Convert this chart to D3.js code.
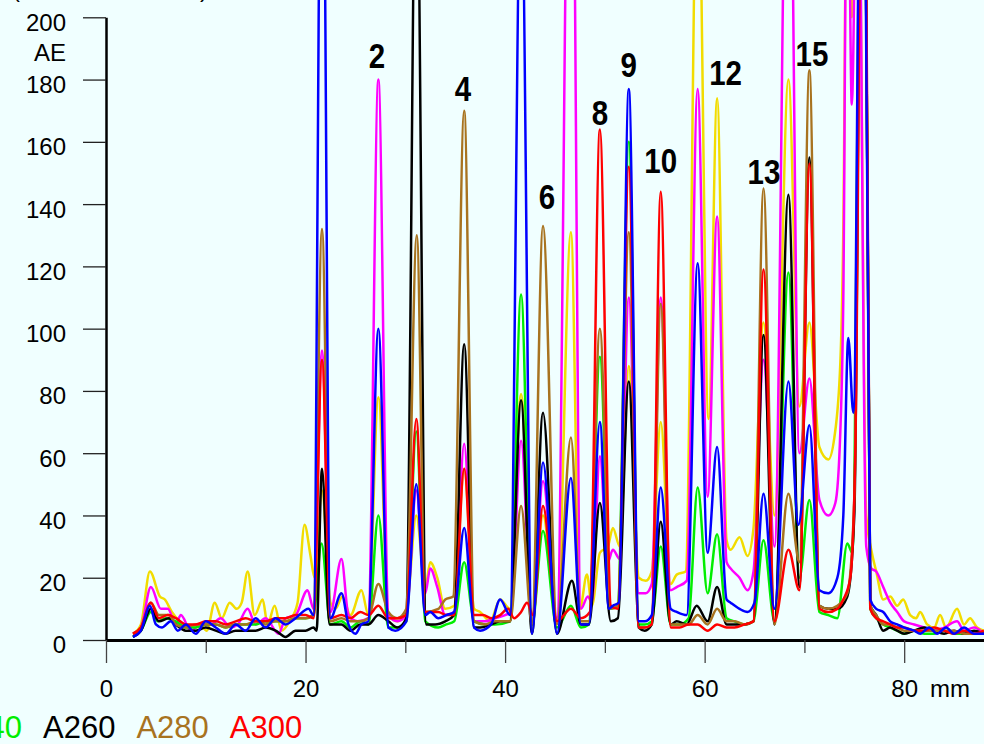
<!DOCTYPE html>
<html>
<head>
<meta charset="utf-8">
<script src="https://cdn.jsdelivr.net/npm/d3@7"></script>
<style>
  body { margin: 0; background: #f0ffff; }
  svg { display: block; }
  text { font-family: "Liberation Sans", Arial, Helvetica, sans-serif; }
</style>
</head>
<body>
<svg id="mainSvg" width="984" height="744"></svg>
<script>
// traces: [mm, AE]
var yellowPts = [[2.7,2],[3.5,5],[4.4,22],[5.4,14],[5.9,13],[6.6,9],[7.4,6],[8.4,4],[9.4,5],[10.1,3],[10.9,12],[11.6,7],[12.4,12],[13.1,10],[13.6,12],[14.2,22],[14.9,8],[15.7,13],[16.2,5],[16.9,11],[17.6,3],[18.4,6],[19.2,12],[19.9,37],[20.5,27],[20.9,20],[21.65,48],[22.5,12],[23.0,10],[23.7,14],[24.5,8],[25.6,16],[26.3,8],[27.3,78],[28.3,8],[29.2,6],[30.1,9],[31.1,40],[32.0,17],[32.5,25],[33.2,20],[34.0,10],[34.9,11],[35.9,55],[36.9,10],[37.5,9],[38.5,6],[39.5,13],[40.5,10],[41.6,79],[42.7,8],[43.8,40],[45.2,6],[46.6,131],[47.5,10],[48.2,21],[48.7,11],[49.5,28],[50.3,30],[50.8,36],[51.5,30],[52.4,88],[53.4,20],[54.1,19],[54.7,22],[55.6,70],[56.6,18],[57.2,21],[58.1,22],[59.3,260],[60.4,71],[61.25,174],[62.2,32],[62.6,29],[63.5,33],[64.3,27],[64.9,36],[65.9,102],[67.0,40],[68.4,180],[69.5,75],[70.5,102],[71.5,62],[72.4,58],[73.0,65],[73.6,89],[73.9,132],[74.3,270],[74.75,200],[75.35,270],[76.2,40],[76.7,29],[77.2,22],[77.9,13],[78.6,14],[79.3,11],[79.9,13],[80.6,8],[81.2,7],[81.6,9],[82.3,5],[83,4],[83.6,8],[84.2,4],[85.3,10],[86,5],[86.6,7],[87.3,4],[88,3]];

var magentaPts = [[2.7,2],[3.5,4],[4.5,17],[5.5,10],[6.2,10],[7.0,5],[7.5,8],[8.5,3],[9.5,5],[10.5,5],[11.5,7],[12.5,4],[13.2,5],[14.2,10],[15.0,5],[16.0,7],[17.3,2],[18.0,7],[19.0,8],[20.2,16],[20.8,10],[21.65,93],[22.5,9],[23.6,26],[24.3,8],[25.2,6],[26.3,7],[27.3,180],[28.3,8],[29.2,6],[30.1,8],[31.1,48],[32.0,15],[32.5,23],[33.2,17],[34.0,8],[34.9,9],[35.9,63],[36.9,6],[38.0,6],[39.0,7],[40.0,8],[40.6,9],[41.6,64],[42.7,6],[43.8,51],[45.2,7],[46.6,320],[47.6,10],[48.3,14],[48.7,12],[49.5,59],[50.3,25],[50.8,29],[51.5,26],[52.4,110],[53.4,15],[54.1,15],[54.7,18],[55.6,110],[56.6,16],[57.2,17],[58.2,19],[59.3,177],[60.3,46],[61.25,136],[62.2,25],[62.6,23],[63.5,20],[64.3,16],[64.9,22],[65.9,90],[67.0,30],[68.4,300],[69.5,60],[70.5,84],[71.5,45],[72.4,40],[73.1,44],[73.6,67],[73.9,110],[74.3,280],[74.75,172],[75.35,280],[76.2,30],[76.7,23],[77.2,22],[77.9,17],[78.6,12],[79.3,9],[80,6],[81,5],[82,4],[83,3],[84,4],[85.3,6],[86,3],[87,4],[88,2]];

var bluePts = [[2.7,1],[3.5,3],[4.4,11],[5.0,5],[5.6,4],[6.5,6],[7.2,3],[8.0,5],[9.0,2],[10.0,6],[11.0,4],[12.0,2],[13.0,5],[14.0,3],[15.0,7],[16.0,4],[17.0,7],[18.0,5],[19.0,7],[20.3,10],[20.8,8],[21.65,300],[22.5,7],[23.6,15],[24.3,5],[25.0,2],[25.6,5],[26.3,6],[27.3,100],[28.3,4],[29.0,3],[30.1,6],[31.1,50],[32.0,8],[32.5,9],[33.3,7],[34.1,8],[34.9,9],[35.9,36],[36.9,4],[37.5,3],[38.6,5],[39.5,13],[40.5,8],[41.6,250],[42.7,2],[43.8,57],[45.2,2],[46.6,52],[47.6,5],[48.4,5],[49.5,70],[50.4,10],[50.8,11],[51.4,12],[52.4,177],[53.4,6],[54.0,6],[54.7,8],[55.6,49],[56.6,10],[57.2,9],[58.2,8],[59.3,121],[60.3,28],[61.25,62],[62.2,13],[62.6,12],[63.5,10],[64.3,9],[65.0,12],[65.9,47],[67.0,10],[68.4,83],[69.4,37],[70.5,69],[71.5,16],[72.4,15],[73.3,20],[73.9,40],[74.4,97],[74.9,73],[75.85,340],[76.6,13],[77.2,10],[77.9,9],[78.6,6],[79.3,5],[80,4],[81,3],[81.6,2],[82.5,4],[83.3,2],[84.2,4],[85,2],[86,4],[87,2],[88,2]];

var greenPts = [[2.7,1],[3.5,3],[4.5,9],[5.2,6],[6.0,7],[7.0,6],[8.0,4],[9.0,4],[10.0,5],[11.0,5],[12.0,4],[13.0,5],[14.0,5],[15.0,5],[16.0,6],[17.0,6],[18.0,6],[19.0,7],[20.0,7],[20.8,8],[21.6,31],[22.5,5],[23.6,6],[24.5,4],[25.5,6],[26.3,5],[27.3,40],[28.3,4],[29.2,4],[30.1,6],[31.1,67],[32.0,6],[33.3,4],[34.1,5],[34.9,6],[35.9,25],[36.9,6],[38.0,5],[39.0,5],[40.5,6],[41.6,111],[42.7,5],[43.8,35],[45.2,4],[46.6,11],[47.6,4],[48.4,5],[49.5,91],[50.6,10],[51.3,11],[52.4,160],[53.4,5],[54.0,5],[54.7,6],[55.6,30],[56.6,5],[57.5,5],[58.4,7],[59.3,49],[60.3,15],[61.25,34],[62.2,7],[63.0,6],[64.0,5],[64.9,6],[65.9,32],[67.0,6],[68.4,118],[69.5,20],[70.5,45],[71.5,9],[72.4,8],[73.3,7],[74.3,31],[74.8,28],[75.9,340],[76.6,10],[77.2,7],[77.9,5],[78.6,4],[79.3,3],[80,2],[81,3],[82,2],[83,2],[84,3],[85,2],[86,2],[87,2],[88,2]];

var blackPts = [[2.7,1],[3.5,3],[4.5,10],[5.3,6],[6.3,7],[7.0,5],[8.0,3],[9.0,3],[10.0,4],[11.0,3],[12.0,2],[13.0,3],[14.0,3],[15.0,3],[16.0,4],[17.0,3],[18.0,1],[19.0,3],[20.0,3],[20.8,4],[21.1,3],[21.65,55],[22.4,5],[23.6,5],[24.5,3],[25.5,5],[26.3,5],[27.3,8],[28.3,6],[29.2,4],[30.1,7],[31.1,265],[32.1,5],[33.0,5],[34.0,6],[34.9,8],[35.9,95],[36.9,4],[37.5,4],[38.6,5],[39.5,6],[40.5,6],[41.6,77],[42.7,2],[43.8,73],[45.2,2],[46.7,19],[47.6,5],[48.4,5],[49.5,44],[50.6,6],[51.3,7],[52.4,83],[53.4,4],[54.0,3],[54.7,5],[55.6,38],[56.6,5],[57.2,6],[58.2,5],[59.2,11],[60.3,6],[61.25,17],[62.2,5],[63.0,5],[64.0,5],[64.9,6],[65.9,98],[67.0,5],[68.4,143],[69.5,17],[70.5,155],[71.5,11],[72.4,10],[73.3,10],[74.3,14],[75.0,40],[75.9,340],[76.6,11],[77.2,8],[77.9,3],[78.6,4],[79.3,3],[80,2],[81,3],[82,4],[83,3],[84,2],[85,3],[86,2],[87,3],[88,2]];

var brownPts = [[2.7,2],[3.5,4],[4.5,12],[5.3,8],[6.3,8],[7.0,5],[8.0,4],[9.0,5],[10.0,5],[11.0,5],[12.0,4],[13.0,5],[14.0,5],[15.0,6],[16.0,5],[17.0,6],[18.0,6],[19.0,7],[20.0,7],[20.8,8],[21.65,132],[22.5,6],[23.6,7],[24.5,6],[25.5,6],[26.3,7],[27.3,18],[28.3,9],[29.2,7],[30.1,10],[31.15,130],[32.0,9],[33.3,10],[34.0,13],[34.8,14],[35.9,170],[36.9,6],[38.0,5],[39.0,6],[40.5,6],[41.6,43],[42.7,5],[43.8,133],[45.2,5],[46.6,65],[47.6,6],[48.4,6],[49.5,100],[50.6,10],[51.3,11],[52.4,131],[53.4,4],[54.0,4],[54.7,5],[55.6,108],[56.6,5],[57.5,5],[58.4,5],[59.3,8],[60.3,5],[61.25,10],[62.2,6],[63.0,6],[64.0,5],[64.9,6],[65.9,145],[67.0,5],[68.4,47],[69.5,25],[70.5,183],[71.5,11],[72.4,10],[73.3,11],[74.3,15],[75.0,45],[75.9,340],[76.6,11],[77.2,8],[77.9,5],[78.6,5],[79.3,4],[80,3],[81,3],[82,3],[83,3],[84,3],[85,3],[86,2],[87,2],[88,2]];

var redPts = [[2.7,2],[3.5,4],[4.5,12],[5.3,7],[6.2,8],[7.0,7],[8.0,5],[9.0,5],[10.0,6],[11.0,6],[12.0,5],[13.0,6],[14.0,7],[15.0,6],[16.0,6],[17.0,7],[18.0,7],[19.0,8],[20.0,8],[20.8,7],[21.65,90],[22.5,7],[23.6,8],[24.5,7],[25.5,9],[26.3,8],[27.3,11],[28.3,7],[29.2,7],[30.1,8],[31.1,71],[32.0,9],[33.3,9],[34.1,8],[34.9,8],[35.9,55],[36.9,8],[37.8,8],[38.6,7],[39.5,8],[40.3,10],[40.9,7],[41.6,9],[42.2,12],[42.8,8],[43.8,43],[45.2,6],[46.6,10],[47.6,7],[48.5,9],[49.5,164],[50.6,11],[51.3,10],[52.4,152],[53.4,4],[54.0,4],[54.7,5],[55.6,144],[56.6,4],[57.5,4],[58.4,5],[59.3,5],[60.3,3],[61.25,5],[62.2,4],[63.0,4],[64.0,5],[64.9,6],[65.9,119],[67.0,6],[68.4,29],[69.5,16],[70.5,153],[71.5,10],[72.4,9],[73.3,10],[73.9,13],[74.6,20],[75.1,60],[75.95,340],[76.6,10],[77.2,7],[77.9,6],[78.6,5],[79.3,4],[80,4],[81,3],[82,3],[83,4],[84,3],[85,2],[86,3],[87,2],[88,3]];

var seriesNames = ["A200", "A210", "A220", "A240", "A260", "A280", "A300"];
var seriesColors = ["#f2dc00", "#ff00ff", "#0000ff", "#00ee00", "#000000", "#a8731f", "#ff0000"];
var seriesPts = [yellowPts, magentaPts, bluePts, greenPts, blackPts, brownPts, redPts];
var drawOrder = [0, 1, 3, 4, 5, 6, 2];

var yTicks = [0, 20, 40, 60, 80, 100, 120, 140, 160, 180, 200];
var xMajor = [0, 20, 40, 60, 80];
var xMinor = [10, 30, 50, 70];

// peak numbers, anchored in data units [mm, AE]
var peakLabels = ["2", "4", "6", "8", "9", "10", "12", "13", "15"];
var peakLabelMm = [27.16, 35.78, 44.2, 49.5, 52.4, 55.6, 62.1, 65.95, 70.75];
var peakLabelAE = [183.7, 173.1, 138.4, 165.4, 180.8, 150.0, 178.3, 146.3, 184.4];

var svg = d3.select("#mainSvg");
svg.append("rect").attr("width", 984).attr("height", 744).attr("fill", "#f0ffff");

var x = d3.scaleLinear().domain([0, 88]).range([106, 984]);
var y = d3.scaleLinear().domain([0, 200]).range([640, 17.3]);

// cut-off caption at the very top
svg.append("text")
  .attr("x", 12).attr("y", -3)
  .attr("textLength", 196)
  .style("font-size", "24px")
  .text("(Extinktion AE)");

// traces
var line = d3.line()
  .x(function(d) { return x(d[0]); })
  .y(function(d) { return y(d[1]); })
  .curve(d3.curveMonotoneX);

var traces = svg.append("g").attr("class", "traces");
drawOrder.forEach(function(i) {
  traces.append("path")
    .datum(seriesPts[i])
    .attr("fill", "none")
    .attr("stroke", seriesColors[i])
    .attr("stroke-width", 2.5)
    .attr("stroke-linejoin", "round")
    .attr("d", line);
});

// y axis
var yAxisG = svg.append("g")
  .attr("transform", "translate(106,0)")
  .call(d3.axisLeft(y).tickValues(yTicks).tickSize(23).tickSizeOuter(0).tickPadding(17));
yAxisG.select(".domain").attr("stroke", "#000").attr("stroke-width", 2.5);
yAxisG.selectAll(".tick line").attr("stroke", "#222").attr("stroke-width", 1.3);
yAxisG.selectAll(".tick text")
  .attr("dy", "0.54em")
  .style("font-size", "24px")
  .attr("fill", "#000");

svg.append("text")
  .attr("x", 66).attr("y", 61)
  .attr("text-anchor", "end")
  .style("font-size", "24px")
  .text("AE");

// x axis
var xAxisG = svg.append("g")
  .attr("transform", "translate(0,640)")
  .call(d3.axisBottom(x).tickValues(xMajor).tickSize(23).tickSizeOuter(0).tickPadding(17));
xAxisG.select(".domain").attr("stroke", "#000").attr("stroke-width", 3);
xAxisG.selectAll(".tick line").attr("stroke", "#444").attr("stroke-width", 1.3);
xAxisG.selectAll(".tick text").style("font-size", "24px").attr("fill", "#000");

var xMinorG = svg.append("g")
  .attr("transform", "translate(0,640)")
  .call(d3.axisBottom(x).tickValues(xMinor).tickSize(13).tickFormat(""));
xMinorG.select(".domain").remove();
xMinorG.selectAll(".tick line").attr("stroke", "#444").attr("stroke-width", 1.3);

svg.append("text")
  .attr("x", 930).attr("y", 697)
  .style("font-size", "24px")
  .text("mm");

// peak numbers (narrow bold)
svg.append("g").selectAll("text")
  .data(peakLabels)
  .enter().append("text")
  .attr("transform", function(d, i) {
    return "translate(" + x(peakLabelMm[i]) + "," + y(peakLabelAE[i]) + ") scale(0.82,1)";
  })
  .attr("text-anchor", "middle")
  .style("font-weight", "bold")
  .style("font-size", "36px")
  .text(function(d) { return d; });

// legend along the bottom, runs off the left edge; A260 starts at x=43
var legendG = svg.append("g");
var legendText = legendG.selectAll("text")
  .data(seriesNames)
  .enter().append("text")
  .attr("y", 738)
  .attr("fill", function(d, i) { return seriesColors[i]; })
  .style("font-size", "31px")
  .text(function(d) { return d; });
var widths = [];
legendText.each(function() { widths.push(this.getComputedTextLength()); });
var gap = 21;
var pos = [];
pos[4] = 43;
for (var i = 5; i < seriesNames.length; i++) pos[i] = pos[i - 1] + widths[i - 1] + gap;
for (var j = 3; j >= 0; j--) pos[j] = pos[j + 1] - gap - widths[j];
legendText.attr("x", function(d, i) { return pos[i]; });
</script>
</body>
</html>
